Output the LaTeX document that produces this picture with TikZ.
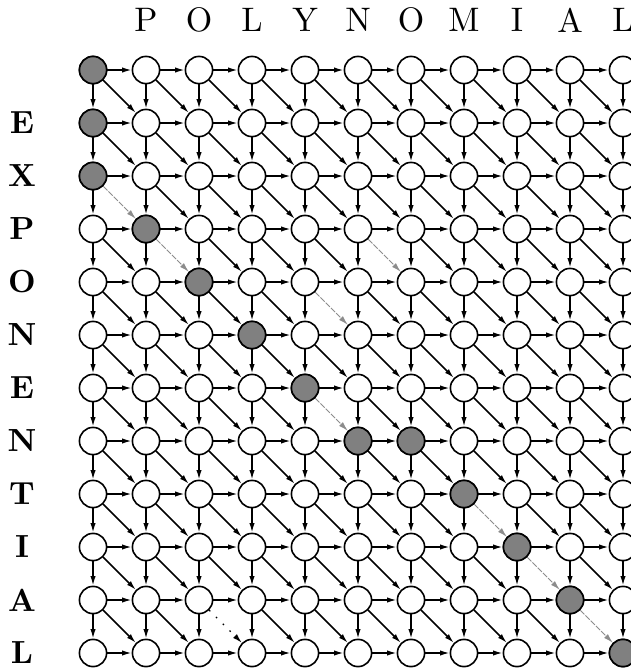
\documentclass[tikz,border=0pt]{standalone}
\usepackage{tikz}
\usetikzlibrary{arrows.meta}
\tikzset{
  >={Latex[length=4.8pt,width=2.7pt]},
  cell/.style ={circle, draw, line width=0.8pt, fill=white,
                minimum size=13.6pt, inner sep=0pt},
  hit/.style  ={cell, fill=black!50},
  con/.style  ={->, draw, line width=0.75pt},
  lite/.style ={->, draw=black!45, line width=0.45pt,
                dash pattern=on 3pt off 0.7pt},
  sparse/.style={->, draw, line width=0.6pt,
                dash pattern=on 0.8pt off 4pt},
  toplbl/.style={font=\normalsize, scale=1.7},
  sidelbl/.style={font=\normalsize\bfseries, scale=1.6},
}
% diagonals that are not drawn as plain arrows
\foreach \s in {0-2,1-3,4-6,7-8,8-9,9-10,5-3,4-4,2-10}
  {\expandafter\gdef\csname skip\s\endcsname{}}
\begin{document}
\begin{tikzpicture}[x=26.5pt, y=-26.5pt]
\useasboundingbox (-1.755,-1.321) rectangle (10.151,11.302);
% grid
\foreach \c in {0,...,10}
  \foreach \r in {0,...,11}
    \node[cell] (n\c-\r) at (\c,\r) {};
% the marked cells
\foreach \c/\r in {0/0,0/1,0/2,1/3,2/4,3/5,4/6,5/7,6/7,7/8,8/9,9/10,10/11}
  \node[hit] at (n\c-\r) {};
% labels
\foreach \ch [count=\i] in {P,O,L,Y,N,O,M,I,A,L}
  \node[toplbl] (top\i) at (\i,-0.94) {\ch};
\foreach \ch [count=\i] in {E,X,P,O,N,E,N,T,I,A,L}
  \node[sidelbl] (side\i) at (-1.34,\i) {\ch};
% edges
\foreach \c in {0,...,10}{
  \foreach \r in {0,...,11}{
    \pgfmathtruncatemacro\nc{\c+1}
    \pgfmathtruncatemacro\nr{\r+1}
    \ifnum\c<10 \draw[con] (n\c-\r) -- (n\nc-\r); \fi
    \ifnum\r<11 \draw[con] (n\c-\r) -- (n\c-\nr); \fi
    \ifnum\c<10 \ifnum\r<11
      \ifcsname skip\c-\r\endcsname\else
        \draw[con] (n\c-\r) -- (n\nc-\nr);
      \fi
    \fi\fi
  }
}
\draw[lite] (n0-2) -- (n1-3);
\draw[lite] (n1-3) -- (n2-4);
\draw[lite] (n4-6) -- (n5-7);
\draw[lite] (n7-8) -- (n8-9);
\draw[lite] (n8-9) -- (n9-10);
\draw[lite] (n9-10) -- (n10-11);
\draw[lite] (n5-3) -- (n6-4);
\draw[lite] (n4-4) -- (n5-5);
\draw[sparse] (n2-10) -- (n3-11);
\end{tikzpicture}
\end{document}
